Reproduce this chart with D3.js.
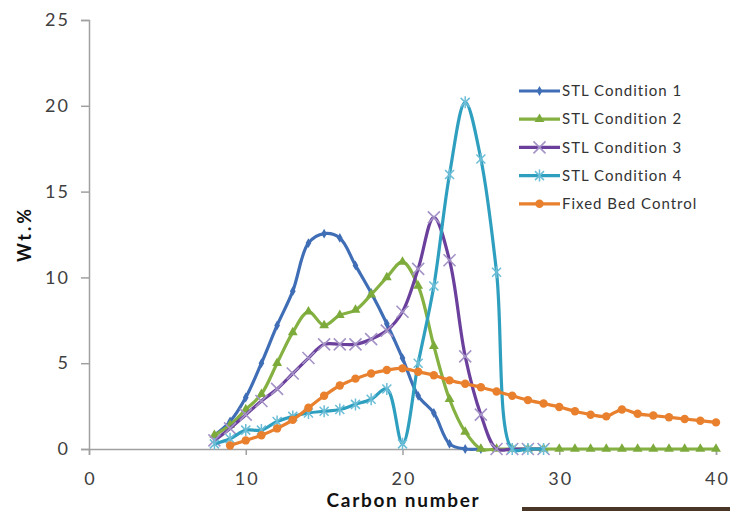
<!DOCTYPE html>
<html>
<head>
<meta charset="utf-8">
<script src="https://cdn.jsdelivr.net/npm/d3@7"></script>
<style>
  body { margin: 0; background: #fff; }
  svg { display: block; font-family: Lato, "Open Sans", sans-serif; }
</style>
</head>
<body>
<div id="vis"></div>
<script>
// carbon numbers per series
var c1 = [8, 9, 10, 11, 12, 13, 14, 15, 16, 17, 18, 19, 20, 21, 22, 23, 24, 25];
var stl1 = [0.8, 1.6, 3.0, 5.0, 7.2, 9.2, 12.0, 12.55, 12.3, 10.7, 9.1, 7.3, 5.3, 3.1, 2.1, 0.3, 0, 0];

var c2 = [8, 9, 10, 11, 12, 13, 14, 15, 16, 17, 18, 19, 20, 21, 22, 23, 24, 25, 26, 27, 28, 29, 30, 31, 32, 33, 34, 35, 36, 37, 38, 39, 40];
var stl2 = [0.8, 1.4, 2.3, 3.2, 5.0, 6.8, 8.0, 7.2, 7.8, 8.1, 9.0, 10.0, 10.9, 9.5, 6.0, 2.9, 1.0, 0, 0, 0, 0, 0, 0, 0, 0, 0, 0, 0, 0, 0, 0, 0, 0];

var c3 = [8, 9, 10, 11, 12, 13, 14, 15, 16, 17, 18, 19, 20, 21, 22, 23, 24, 25, 26, 27, 28, 29];
var stl3 = [0.5, 1.2, 2.0, 2.8, 3.5, 4.4, 5.3, 6.1, 6.1, 6.1, 6.4, 6.9, 8.0, 10.5, 13.5, 11.0, 5.4, 2.0, 0, 0, 0, 0];

var c4 = [8, 9, 10, 11, 12, 13, 14, 15, 16, 17, 18, 19, 20, 21, 22, 23, 24, 25, 26, 27, 28, 29];
var stl4 = [0.3, 0.6, 1.1, 1.1, 1.6, 1.9, 2.1, 2.2, 2.3, 2.6, 2.9, 3.5, 0.3, 5.0, 9.5, 16.0, 20.2, 16.9, 10.3, 0, 0, 0];

var c5 = [9, 10, 11, 12, 13, 14, 15, 16, 17, 18, 19, 20, 21, 22, 23, 24, 25, 26, 27, 28, 29, 30, 31, 32, 33, 34, 35, 36, 37, 38, 39, 40];
var fixedBed = [0.2, 0.5, 0.8, 1.2, 1.7, 2.4, 3.1, 3.7, 4.1, 4.4, 4.6, 4.7, 4.5, 4.3, 4.0, 3.8, 3.6, 3.35, 3.1, 2.85, 2.65, 2.45, 2.2, 2.0, 1.9, 2.3, 2.05, 1.95, 1.85, 1.75, 1.65, 1.55];

var seriesNames = ['STL Condition 1', 'STL Condition 2', 'STL Condition 3', 'STL Condition 4', 'Fixed Bed Control'];
var xTicks = [0, 10, 20, 30, 40];
var yTicks = [0, 5, 10, 15, 20, 25];

var series = [
    {name: seriesNames[0], xs: c1, ys: stl1, color: '#3f6eb6', marker: 'diamond', mcolor: '#3f6eb6'},
    {name: seriesNames[1], xs: c2, ys: stl2, color: '#84b141', marker: 'triangle', mcolor: '#7dab3b'},
    {name: seriesNames[2], xs: c3, ys: stl3, color: '#6b3f9c', marker: 'x', mcolor: '#a493c6'},
    {name: seriesNames[3], xs: c4, ys: stl4, color: '#2f9fbf', marker: 'star', mcolor: '#6cbdd6'},
    {name: seriesNames[4], xs: c5, ys: fixedBed, color: '#e8802e', marker: 'circle', mcolor: '#e8802e'}
];

var width = 730, height = 511;
var svg = d3.select('#vis').append('svg')
    .attr('width', width)
    .attr('height', height);

var x = d3.scaleLinear().domain([0, 40]).range([89, 716]);
var y = d3.scaleLinear().domain([0, 25]).range([449, 20]);

var axisColor = '#a0a0a0';

// y axis
var yAxis = svg.append('g')
    .attr('transform', 'translate(' + x(0) + ',0)')
    .call(d3.axisLeft(y).tickValues(yTicks).tickSize(8).tickPadding(11));
// x axis
var xAxis = svg.append('g')
    .attr('transform', 'translate(0,' + y(0) + ')')
    .call(d3.axisBottom(x).tickValues(xTicks).tickSize(6).tickPadding(17));

[xAxis, yAxis].forEach(function (g) {
    g.select('.domain').attr('stroke', axisColor).attr('stroke-width', 1.5);
    g.selectAll('.tick line').attr('stroke', axisColor).attr('stroke-width', 1.5);
    g.selectAll('.tick text')
        .attr('fill', '#404040')
        .style('font-size', '18px')
        .style('letter-spacing', '2px')
        .style('font-family', 'Lato, sans-serif');
});
xAxis.selectAll('.tick text').attr('dx', '1px');

svg.append('text')
    .attr('transform', 'translate(31,234) rotate(-90)')
    .attr('text-anchor', 'middle')
    .attr('font-weight', 'bold')
    .attr('font-size', 18)
    .style('letter-spacing', '3px')
    .attr('fill', '#111')
    .text('Wt.%');

svg.append('text')
    .attr('x', x(20) + 1)
    .attr('y', 507)
    .attr('text-anchor', 'middle')
    .attr('font-weight', 'bold')
    .attr('font-size', 19)
    .style('letter-spacing', '1.7px')
    .attr('fill', '#111')
    .text('Carbon number');

var line = d3.line()
    .x(function (d) { return x(d[0]); })
    .y(function (d) { return y(d[1]); })
    .curve(d3.curveCatmullRom.alpha(0.5));

function drawMarker(g, kind, color) {
    if (kind === 'diamond') {
        g.append('path').attr('d', d3.symbol().type(d3.symbolDiamond).size(28)()).attr('fill', color);
    } else if (kind === 'triangle') {
        g.append('path').attr('d', d3.symbol().type(d3.symbolTriangle).size(42)()).attr('fill', color);
    } else if (kind === 'circle') {
        g.append('circle').attr('r', 4.2).attr('fill', color);
    } else if (kind === 'x') {
        g.append('path').attr('d', 'M-6,-6L6,6M-6,6L6,-6')
            .attr('stroke', color).attr('stroke-width', 1.6).attr('fill', 'none');
    } else if (kind === 'star') {
        g.append('path').attr('d', 'M-4.5,-4.5L4.5,4.5M-4.5,4.5L4.5,-4.5M0,-6L0,6')
            .attr('stroke', color).attr('stroke-width', 1.5).attr('fill', 'none');
    }
}

series.forEach(function (s) {
    var pts = s.xs.map(function (c, i) { return [c, s.ys[i]]; });
    var g = svg.append('g');
    g.append('path')
        .datum(pts)
        .attr('d', line)
        .attr('fill', 'none')
        .attr('stroke', s.color)
        .attr('stroke-width', 3.2);
    g.selectAll('.m')
        .data(pts)
        .enter()
        .append('g')
        .attr('transform', function (d) { return 'translate(' + x(d[0]) + ',' + y(d[1]) + ')'; })
        .each(function () { drawMarker(d3.select(this), s.marker, s.mcolor); });
});

// legend
var legend = svg.append('g').attr('transform', 'translate(519,91)');
series.forEach(function (s, i) {
    var row = legend.append('g').attr('transform', 'translate(0,' + (i * 28.2) + ')');
    row.append('line')
        .attr('x1', 0).attr('x2', 41)
        .attr('stroke', s.color)
        .attr('stroke-width', 3.2);
    var m = row.append('g').attr('transform', 'translate(20.5,0)');
    drawMarker(m, s.marker, s.mcolor);
    row.append('text')
        .attr('x', 43)
        .attr('y', 0)
        .attr('dy', '0.35em')
        .attr('font-size', 15)
        .style('letter-spacing', '1px')
        .attr('fill', '#333')
        .text(s.name);
});

// dark strip at the bottom edge of the source picture
svg.append('rect')
    .attr('x', 522).attr('y', 507)
    .attr('width', 208).attr('height', 4)
    .attr('fill', '#4a3626');
</script>
</body>
</html>
